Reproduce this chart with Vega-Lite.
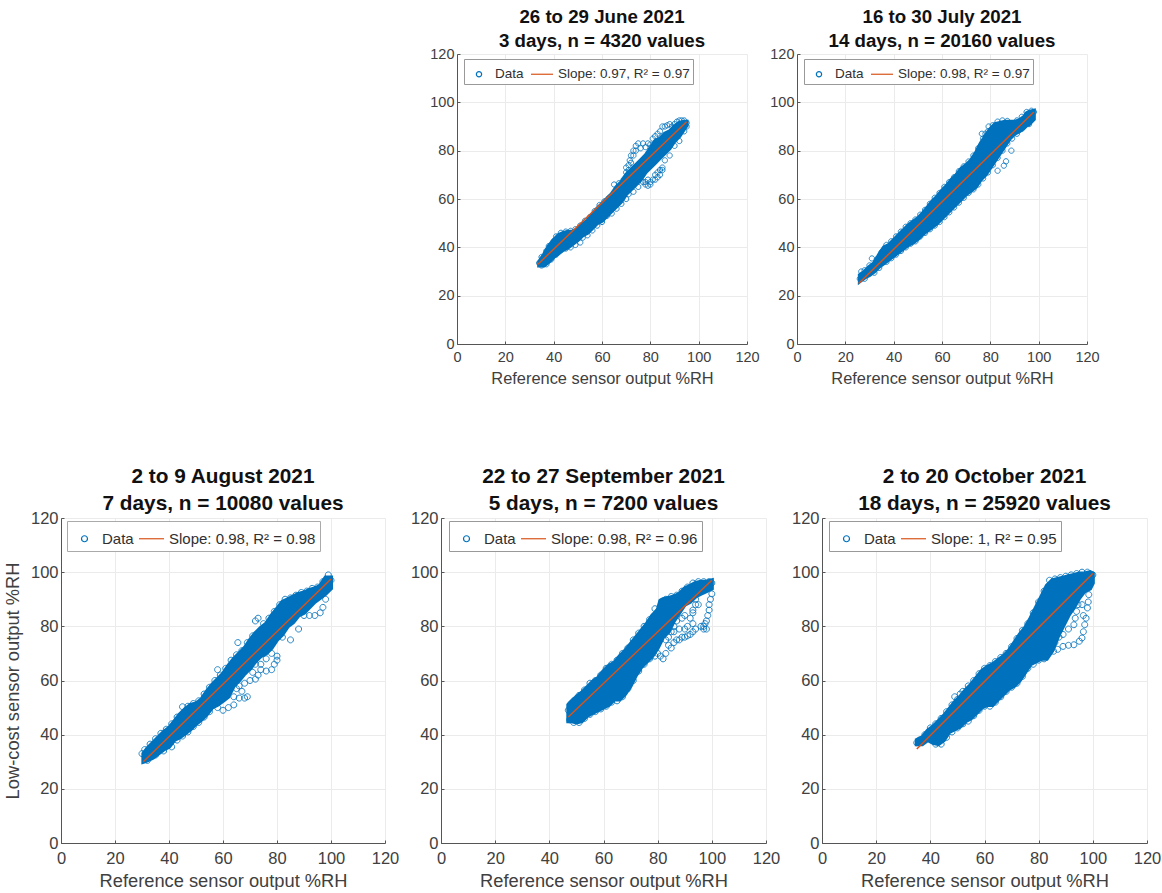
{"$schema":"https://vega.github.io/schema/vega-lite/v6.json","background":"white","padding":{"left":3,"top":8,"right":0,"bottom":0},"bounds":"flush","spacing":464,
"resolve":{"scale":{"color":"independent","shape":"independent"},"legend":{"color":"independent","shape":"independent"}},
"config":{"view":{"stroke":null},"font":"Liberation Sans","axis":{"grid":true,"gridColor":"#ebebeb","gridWidth":1,"domainColor":"#555555","domainWidth":1,"tickColor":"#555555","tickSize":-3,"labelColor":"#404040","titleColor":"#404040","titleFontWeight":"normal","labelFont":"Liberation Sans","titleFont":"Liberation Sans","labelFlush":false,"labelOverlap":false}},
"datasets":{
"e1":[{"x":34,"lo":32.5,"hi":34},{"x":36,"lo":32.5,"hi":37},{"x":38,"lo":34,"hi":40.5},{"x":40,"lo":36,"hi":43},{"x":42,"lo":37.5,"hi":45},{"x":44,"lo":39,"hi":46},{"x":46,"lo":40,"hi":46.5},{"x":48,"lo":41.5,"hi":46.5},{"x":50,"lo":43,"hi":47.5},{"x":52,"lo":45,"hi":49.5},{"x":54,"lo":46,"hi":51},{"x":56,"lo":48,"hi":53.5},{"x":58,"lo":50,"hi":56},{"x":60,"lo":51,"hi":58},{"x":62,"lo":53,"hi":60},{"x":64,"lo":55,"hi":62},{"x":66,"lo":57,"hi":65},{"x":68,"lo":59,"hi":67},{"x":70,"lo":62,"hi":70},{"x":72,"lo":64,"hi":72},{"x":74,"lo":66,"hi":74},{"x":76,"lo":68,"hi":76},{"x":78,"lo":71,"hi":78},{"x":80,"lo":73,"hi":81},{"x":82,"lo":75,"hi":84},{"x":84,"lo":77,"hi":85},{"x":86,"lo":79,"hi":87},{"x":88,"lo":81,"hi":88},{"x":90,"lo":84,"hi":90},{"x":92,"lo":86,"hi":91.5},{"x":94,"lo":89,"hi":92},{"x":95,"lo":90.5,"hi":92}],
"p1":[{"x":34,"y":33.5},{"x":35,"y":36},{"x":37,"y":38.5},{"x":38,"y":40.5},{"x":40,"y":42.5},{"x":41,"y":44.5},{"x":43,"y":46},{"x":45,"y":46.5},{"x":47,"y":46.8},{"x":49,"y":47.5},{"x":51,"y":49},{"x":53,"y":51},{"x":55,"y":52.5},{"x":57,"y":55},{"x":59,"y":57.5},{"x":61,"y":59},{"x":63,"y":60.5},{"x":65,"y":66},{"x":67,"y":66.5},{"x":69,"y":68},{"x":70,"y":71},{"x":71,"y":74},{"x":71.5,"y":76},{"x":72,"y":78},{"x":73,"y":80},{"x":74,"y":82},{"x":75,"y":83},{"x":77,"y":83},{"x":79,"y":83},{"x":80,"y":82.5},{"x":81,"y":85},{"x":82,"y":86},{"x":83,"y":87},{"x":84,"y":88},{"x":85,"y":90},{"x":86,"y":90},{"x":87,"y":90.5},{"x":88,"y":91},{"x":89,"y":90},{"x":90,"y":91},{"x":91,"y":92},{"x":92,"y":92.5},{"x":93,"y":92.5},{"x":94,"y":92.5},{"x":95,"y":91.5},{"x":72,"y":75},{"x":73,"y":78},{"x":74,"y":80},{"x":76,"y":81},{"x":78,"y":81.5},{"x":70,"y":73},{"x":71,"y":72},{"x":35,"y":32.5},{"x":37,"y":33},{"x":39,"y":35},{"x":41,"y":37},{"x":43,"y":39},{"x":45,"y":39.5},{"x":47,"y":40},{"x":49,"y":41},{"x":51,"y":42},{"x":52,"y":44},{"x":54,"y":45},{"x":56,"y":47},{"x":58,"y":49},{"x":60,"y":50.5},{"x":62,"y":53},{"x":64,"y":54},{"x":66,"y":56},{"x":68,"y":58},{"x":70,"y":60},{"x":71,"y":62},{"x":73,"y":63},{"x":75,"y":65},{"x":77,"y":67},{"x":78,"y":66},{"x":79,"y":65.5},{"x":80,"y":66},{"x":81,"y":68},{"x":82,"y":70},{"x":83,"y":71},{"x":84,"y":72},{"x":85,"y":73},{"x":86,"y":76},{"x":88,"y":78},{"x":90,"y":82},{"x":92,"y":84},{"x":94,"y":88},{"x":95,"y":90},{"x":78,"y":67},{"x":80,"y":67},{"x":83,"y":69},{"x":84,"y":70},{"x":85,"y":72},{"x":79,"y":68},{"x":82,"y":68}],
"l1":[{"x":33.5,"y":33},{"x":95,"y":92}],
"e2":[{"x":26,"lo":26,"hi":28.5},{"x":28,"lo":27.5,"hi":30},{"x":30,"lo":28.5,"hi":32},{"x":32,"lo":30,"hi":33.5},{"x":34,"lo":32,"hi":37},{"x":36,"lo":33.5,"hi":40},{"x":38,"lo":35,"hi":41},{"x":40,"lo":36.5,"hi":43},{"x":42,"lo":38,"hi":45},{"x":44,"lo":39.5,"hi":47},{"x":46,"lo":41,"hi":49},{"x":48,"lo":42,"hi":50.5},{"x":50,"lo":43.5,"hi":52},{"x":52,"lo":45.5,"hi":54},{"x":54,"lo":47,"hi":56.5},{"x":56,"lo":48.5,"hi":59},{"x":58,"lo":50,"hi":61},{"x":60,"lo":52,"hi":63.5},{"x":62,"lo":54,"hi":65.5},{"x":64,"lo":56,"hi":68},{"x":66,"lo":58,"hi":70},{"x":68,"lo":60,"hi":72.5},{"x":70,"lo":62,"hi":74},{"x":72,"lo":63.5,"hi":76},{"x":74,"lo":65,"hi":79},{"x":76,"lo":68,"hi":83},{"x":78,"lo":70,"hi":86},{"x":80,"lo":73,"hi":89},{"x":82,"lo":76,"hi":91},{"x":84,"lo":79,"hi":91.5},{"x":86,"lo":82,"hi":92},{"x":88,"lo":85,"hi":92},{"x":90,"lo":87,"hi":92},{"x":92,"lo":88,"hi":92.5},{"x":94,"lo":89.5,"hi":94},{"x":95,"lo":90.5,"hi":95.5},{"x":96,"lo":91,"hi":96},{"x":98,"lo":93,"hi":96.5}],
"p2":[{"x":26,"y":27},{"x":26.6,"y":30},{"x":31,"y":35.4},{"x":28,"y":30.5},{"x":30,"y":32.5},{"x":33,"y":35},{"x":35,"y":38},{"x":37,"y":41},{"x":39,"y":42.5},{"x":41,"y":44.5},{"x":43,"y":46.5},{"x":45,"y":48.5},{"x":47,"y":50},{"x":49,"y":51.5},{"x":51,"y":53.5},{"x":53,"y":55.5},{"x":55,"y":58},{"x":57,"y":60.5},{"x":59,"y":62.5},{"x":61,"y":65},{"x":63,"y":67},{"x":65,"y":69},{"x":67,"y":71.5},{"x":69,"y":73.5},{"x":71,"y":75.5},{"x":73,"y":78},{"x":75,"y":81},{"x":77,"y":85},{"x":79,"y":88},{"x":81,"y":90.5},{"x":76.5,"y":87},{"x":79.3,"y":90},{"x":78,"y":87},{"x":81,"y":87.5},{"x":83,"y":92},{"x":85,"y":92.5},{"x":87,"y":92.3},{"x":91,"y":92.5},{"x":93,"y":94},{"x":95,"y":96},{"x":97,"y":96.5},{"x":98,"y":96},{"x":28,"y":27},{"x":32,"y":29.5},{"x":34,"y":31.5},{"x":37,"y":34},{"x":39,"y":35.5},{"x":41,"y":37},{"x":43,"y":38.5},{"x":45,"y":40},{"x":47,"y":41.5},{"x":49,"y":42.5},{"x":51,"y":44.5},{"x":53,"y":46},{"x":55,"y":47.5},{"x":57,"y":49},{"x":59,"y":50.5},{"x":61,"y":52.5},{"x":63,"y":54.5},{"x":65,"y":56.5},{"x":67,"y":58.5},{"x":69,"y":60.5},{"x":71,"y":62.5},{"x":73,"y":64},{"x":75,"y":66},{"x":77,"y":68.5},{"x":79,"y":71},{"x":81,"y":74},{"x":83,"y":71.7},{"x":85.6,"y":73.8},{"x":86.5,"y":75.6},{"x":83,"y":77},{"x":85,"y":80},{"x":87,"y":83},{"x":88.7,"y":80},{"x":89,"y":85},{"x":91,"y":87},{"x":93,"y":89},{"x":96,"y":91}],
"l2":[{"x":25.5,"y":25},{"x":98,"y":96}],
"e3":[{"x":30.5,"lo":30,"hi":33},{"x":32,"lo":30.5,"hi":35},{"x":34,"lo":31.5,"hi":37},{"x":36,"lo":33,"hi":39},{"x":38,"lo":34.5,"hi":41},{"x":40,"lo":35.5,"hi":42.5},{"x":42,"lo":38,"hi":45},{"x":44,"lo":39,"hi":47.5},{"x":46,"lo":40.5,"hi":49.5},{"x":48,"lo":42,"hi":51},{"x":50,"lo":44,"hi":51.5},{"x":52,"lo":45.5,"hi":53},{"x":54,"lo":47.5,"hi":56},{"x":56,"lo":50,"hi":58.5},{"x":58,"lo":51,"hi":60.5},{"x":60,"lo":52.5,"hi":62.5},{"x":62,"lo":54,"hi":65.5},{"x":64,"lo":58,"hi":68},{"x":66,"lo":60,"hi":70},{"x":68,"lo":62.5,"hi":72},{"x":70,"lo":64.5,"hi":75},{"x":72,"lo":67,"hi":77.5},{"x":74,"lo":69,"hi":79.5},{"x":76,"lo":70,"hi":81},{"x":78,"lo":72,"hi":84},{"x":80,"lo":75,"hi":86.5},{"x":82,"lo":77,"hi":89},{"x":84,"lo":80,"hi":90},{"x":86,"lo":81.5,"hi":91},{"x":88,"lo":84,"hi":92},{"x":90,"lo":85,"hi":92.5},{"x":92,"lo":87,"hi":93.5},{"x":94,"lo":89,"hi":94},{"x":96,"lo":90.5,"hi":95},{"x":98,"lo":92,"hi":98},{"x":100,"lo":94,"hi":98}],
"p3":[{"x":30,"y":33},{"x":31,"y":34.5},{"x":33,"y":36.5},{"x":35,"y":38.5},{"x":37,"y":40.5},{"x":39,"y":42},{"x":41,"y":44},{"x":43,"y":46.5},{"x":45,"y":50.3},{"x":47,"y":50.5},{"x":49,"y":51.5},{"x":51,"y":52.5},{"x":53,"y":55},{"x":55,"y":57.5},{"x":58,"y":64},{"x":57,"y":60},{"x":59,"y":62},{"x":61,"y":64.5},{"x":63,"y":67.5},{"x":65,"y":69.5},{"x":65.5,"y":74},{"x":67,"y":71},{"x":69,"y":74},{"x":71,"y":76.5},{"x":72,"y":82},{"x":73,"y":83},{"x":75,"y":81},{"x":77,"y":83},{"x":79,"y":85.5},{"x":81,"y":88},{"x":83,"y":90},{"x":85,"y":90.5},{"x":87,"y":91.5},{"x":89,"y":92.5},{"x":91,"y":93},{"x":93,"y":94},{"x":95,"y":94.5},{"x":97,"y":96.5},{"x":99,"y":99},{"x":100,"y":97},{"x":32,"y":30.5},{"x":35,"y":32.5},{"x":38,"y":34},{"x":41,"y":35.5},{"x":43,"y":38},{"x":45,"y":39.5},{"x":47,"y":41},{"x":49,"y":43},{"x":51,"y":44.5},{"x":53,"y":46.5},{"x":55,"y":48.5},{"x":58,"y":50},{"x":60,"y":49},{"x":62,"y":50},{"x":64,"y":51},{"x":64,"y":54},{"x":66,"y":53.5},{"x":68,"y":53.5},{"x":69,"y":54},{"x":67,"y":56},{"x":65,"y":57},{"x":66,"y":58},{"x":68,"y":59},{"x":70,"y":60},{"x":72,"y":60.5},{"x":73,"y":62},{"x":71,"y":63},{"x":74,"y":64},{"x":76,"y":63.5},{"x":78,"y":64},{"x":79,"y":66},{"x":80,"y":67.5},{"x":80,"y":69},{"x":78,"y":70},{"x":76,"y":68},{"x":74,"y":66},{"x":72,"y":66},{"x":70,"y":65},{"x":82,"y":76},{"x":85,"y":75},{"x":88,"y":79},{"x":90,"y":84},{"x":92,"y":84},{"x":94,"y":84},{"x":96,"y":85},{"x":97,"y":87},{"x":98,"y":90}],
"l3":[{"x":30.5,"y":30},{"x":100,"y":97.5}],
"e4":[{"x":47,"lo":45,"hi":51},{"x":48,"lo":45,"hi":52},{"x":50,"lo":44.5,"hi":54},{"x":52,"lo":45,"hi":55.5},{"x":54,"lo":47,"hi":57.5},{"x":56,"lo":48,"hi":59.5},{"x":58,"lo":49,"hi":61},{"x":60,"lo":50,"hi":63.5},{"x":62,"lo":51,"hi":65.5},{"x":64,"lo":53,"hi":66.5},{"x":66,"lo":53,"hi":69},{"x":68,"lo":55,"hi":71},{"x":70,"lo":58,"hi":73.5},{"x":72,"lo":62,"hi":76},{"x":74,"lo":65,"hi":78.5},{"x":76,"lo":67,"hi":81},{"x":78,"lo":69,"hi":84},{"x":80,"lo":72,"hi":86},{"x":81,"lo":74,"hi":89.5},{"x":82,"lo":76,"hi":90},{"x":84,"lo":78,"hi":90.5},{"x":86,"lo":82,"hi":91},{"x":88,"lo":85,"hi":92},{"x":90,"lo":88,"hi":94},{"x":92,"lo":89,"hi":95},{"x":94,"lo":91,"hi":96},{"x":96,"lo":92,"hi":96.5},{"x":98,"lo":93,"hi":96.5},{"x":100,"lo":94,"hi":97}],
"p4":[{"x":47,"y":49},{"x":47.5,"y":45.5},{"x":48,"y":51.5},{"x":49,"y":52.5},{"x":51,"y":54.5},{"x":53,"y":56.5},{"x":55,"y":59},{"x":57,"y":60},{"x":59,"y":62},{"x":61,"y":64.5},{"x":63,"y":66},{"x":65,"y":67.5},{"x":67,"y":70},{"x":69,"y":72},{"x":71,"y":75},{"x":73,"y":77.5},{"x":75,"y":80},{"x":77,"y":82.5},{"x":79,"y":86.5},{"x":80,"y":85.5},{"x":81.5,"y":89},{"x":83,"y":90},{"x":85,"y":91},{"x":87,"y":91.5},{"x":89,"y":93},{"x":91,"y":94.5},{"x":93,"y":96},{"x":95,"y":96.5},{"x":97,"y":96.5},{"x":99,"y":96.5},{"x":100,"y":96},{"x":49,"y":44.5},{"x":51,"y":44.5},{"x":53,"y":46},{"x":55,"y":47.5},{"x":57,"y":48.5},{"x":59,"y":49.5},{"x":61,"y":50.5},{"x":63,"y":52},{"x":65,"y":52.5},{"x":67,"y":54},{"x":69,"y":57},{"x":71,"y":60},{"x":73,"y":63.5},{"x":75,"y":66},{"x":77,"y":68},{"x":79,"y":69},{"x":100,"y":92},{"x":99.5,"y":90},{"x":99,"y":88},{"x":99,"y":86},{"x":98.5,"y":84},{"x":98,"y":82},{"x":97.5,"y":81},{"x":97,"y":80},{"x":97,"y":79},{"x":98,"y":79},{"x":96,"y":80},{"x":94,"y":79},{"x":93,"y":78},{"x":91,"y":76.5},{"x":89,"y":76},{"x":88,"y":75},{"x":87,"y":75},{"x":90,"y":76},{"x":92,"y":77},{"x":86,"y":74},{"x":85,"y":72},{"x":83,"y":70},{"x":82,"y":68},{"x":81,"y":69},{"x":80,"y":70},{"x":84,"y":73},{"x":86,"y":78},{"x":88,"y":79},{"x":90,"y":79},{"x":91,"y":80},{"x":93,"y":81},{"x":92,"y":83},{"x":93,"y":85},{"x":93,"y":86},{"x":94,"y":88},{"x":95,"y":88},{"x":94,"y":90},{"x":89,"y":83},{"x":90,"y":84},{"x":87,"y":82},{"x":85,"y":78},{"x":86,"y":80},{"x":84,"y":76},{"x":83,"y":75}],
"l4":[{"x":47,"y":46.5},{"x":100,"y":97}],
"e5":[{"x":35,"lo":36.5,"hi":38},{"x":37,"lo":36.5,"hi":39},{"x":39,"lo":38,"hi":41.5},{"x":41,"lo":37,"hi":43},{"x":43,"lo":36.5,"hi":45},{"x":45,"lo":38,"hi":47},{"x":47,"lo":41,"hi":49.5},{"x":49,"lo":42,"hi":52},{"x":51,"lo":43,"hi":54},{"x":53,"lo":45,"hi":56.5},{"x":55,"lo":46,"hi":58.5},{"x":57,"lo":48,"hi":61},{"x":59,"lo":50,"hi":63.5},{"x":61,"lo":51,"hi":65},{"x":63,"lo":51,"hi":66},{"x":65,"lo":53,"hi":67.5},{"x":67,"lo":55,"hi":69},{"x":69,"lo":57,"hi":71},{"x":71,"lo":58,"hi":74},{"x":73,"lo":60,"hi":77},{"x":75,"lo":63,"hi":79.5},{"x":77,"lo":66,"hi":83},{"x":79,"lo":67,"hi":87},{"x":81,"lo":68,"hi":91},{"x":83,"lo":68,"hi":95},{"x":85,"lo":71,"hi":97},{"x":87,"lo":76,"hi":97.5},{"x":89,"lo":80,"hi":98},{"x":91,"lo":84,"hi":98.5},{"x":93,"lo":87,"hi":99},{"x":95,"lo":90.5,"hi":99.5},{"x":97,"lo":93,"hi":99.5},{"x":99,"lo":94,"hi":100},{"x":100,"lo":96,"hi":99.5}],
"p5":[{"x":35,"y":37},{"x":36,"y":38},{"x":38,"y":40},{"x":40,"y":42.5},{"x":42,"y":44},{"x":44,"y":46},{"x":46,"y":48.5},{"x":48,"y":51},{"x":49,"y":54},{"x":51,"y":55},{"x":50,"y":53},{"x":52,"y":56},{"x":54,"y":58},{"x":56,"y":60},{"x":58,"y":62.5},{"x":60,"y":64.5},{"x":62,"y":65.5},{"x":64,"y":67},{"x":66,"y":68.5},{"x":68,"y":70},{"x":70,"y":72.5},{"x":72,"y":75.5},{"x":74,"y":78.5},{"x":76,"y":81},{"x":78,"y":85},{"x":80,"y":89},{"x":82,"y":93},{"x":84,"y":97},{"x":86,"y":97.5},{"x":88,"y":98},{"x":90,"y":98.5},{"x":92,"y":99},{"x":94,"y":99.5},{"x":96,"y":100},{"x":98,"y":100},{"x":100,"y":99},{"x":42,"y":36.5},{"x":44,"y":36.5},{"x":46,"y":39},{"x":48,"y":41},{"x":50,"y":42.5},{"x":52,"y":44},{"x":54,"y":45},{"x":56,"y":47},{"x":58,"y":49},{"x":60,"y":50.5},{"x":62,"y":50.5},{"x":64,"y":52},{"x":66,"y":54},{"x":68,"y":56},{"x":70,"y":57.5},{"x":72,"y":59},{"x":74,"y":61.5},{"x":76,"y":64.5},{"x":78,"y":66},{"x":80,"y":67.5},{"x":82,"y":68},{"x":85.5,"y":70.8},{"x":87,"y":71.5},{"x":89,"y":72.6},{"x":91,"y":73},{"x":93,"y":73.2},{"x":95,"y":74.5},{"x":96,"y":75.7},{"x":96.5,"y":78},{"x":97,"y":80.6},{"x":97.5,"y":83},{"x":98,"y":86.8},{"x":98.3,"y":89},{"x":98.5,"y":91.7},{"x":86,"y":74},{"x":87.5,"y":76},{"x":89,"y":77},{"x":91,"y":79},{"x":93,"y":80.6},{"x":93.5,"y":83},{"x":94,"y":85.5},{"x":94.5,"y":88},{"x":96,"y":88},{"x":96.5,"y":84}],
"l5":[{"x":35,"y":34.7},{"x":100,"y":99.5}]
},
"vconcat":[
{"bounds":"flush","spacing":50,"resolve":{"scale":{"color":"independent","shape":"independent"},"legend":{"color":"independent","shape":"independent"}},"hconcat":[
{"width":346,"height":290,"data":{"values":[{"x":0}]},"mark":{"type":"point","opacity":0},"encoding":{"x":{"field":"x","type":"quantitative","axis":null}}},
{"width":290,"height":290,"title":{"text":["26 to 29 June 2021","3 days, n = 4320 values"],"fontSize":18.7,"fontWeight":"bold","lineHeight":24,"color":"#111111","offset":-5,"font":"Liberation Sans"},
"layer":[
{"data":{"name":"e1"},"mark":{"type":"area","color":"#0072BD","stroke":"#0072BD","strokeWidth":4},"encoding":{"x":{"field":"x","type":"quantitative","scale":{"domain":[0,120],"nice":false},"title":"Reference sensor output %RH","axis":{"values":[0,20,40,60,80,100,120],"labelFontSize":14.5,"titleFontSize":16.4,"titlePadding":7,"labelPadding":9}},"y":{"field":"lo","type":"quantitative","scale":{"domain":[0,120],"nice":false},"title":null,"axis":{"values":[0,20,40,60,80,100,120],"labelFontSize":14.5,"labelPadding":6}},"y2":{"field":"hi"}}},
{"data":{"name":"p1"},"mark":{"type":"point","filled":false,"size":484,"strokeWidth":1,"opacity":0.85},"encoding":{"x":{"field":"x","type":"quantitative"},"y":{"field":"y","type":"quantitative"},"color":{"datum":"Data","scale":{"domain":["Data","Slope: 0.97, R² = 0.97"],"range":["#0072BD","#D95319"]},"legend":{"orient":"none","legendX":7,"legendY":5,"direction":"horizontal","columns":2,"title":null,"fillColor":"white","strokeColor":"#999999","padding":3,"labelFontSize":13.5,"labelColor":"#303030","symbolSize":484,"symbolStrokeWidth":1.2,"columnPadding":4,"labelOffset":4,"symbolOpacity":1}},"shape":{"datum":"Data","scale":{"domain":["Data","Slope: 0.97, R² = 0.97"],"range":["M-.24,0A.24,.24 0 1,1 .24,0A.24,.24 0 1,1 -.24,0Z","M-1,0L1,0"]}}}},
{"data":{"name":"l1"},"mark":{"type":"line","color":"#D95319","strokeWidth":1.5},"encoding":{"x":{"field":"x","type":"quantitative"},"y":{"field":"y","type":"quantitative"}}}
]},
{"width":290,"height":290,"title":{"text":["16 to 30 July 2021","14 days, n = 20160 values"],"fontSize":18.7,"fontWeight":"bold","lineHeight":24,"color":"#111111","offset":-5,"font":"Liberation Sans"},
"layer":[
{"data":{"name":"e2"},"mark":{"type":"area","color":"#0072BD","stroke":"#0072BD","strokeWidth":4},"encoding":{"x":{"field":"x","type":"quantitative","scale":{"domain":[0,120],"nice":false},"title":"Reference sensor output %RH","axis":{"values":[0,20,40,60,80,100,120],"labelFontSize":14.5,"titleFontSize":16.4,"titlePadding":7,"labelPadding":9}},"y":{"field":"lo","type":"quantitative","scale":{"domain":[0,120],"nice":false},"title":null,"axis":{"values":[0,20,40,60,80,100,120],"labelFontSize":14.5,"labelPadding":6}},"y2":{"field":"hi"}}},
{"data":{"name":"p2"},"mark":{"type":"point","filled":false,"size":484,"strokeWidth":1,"opacity":0.85},"encoding":{"x":{"field":"x","type":"quantitative"},"y":{"field":"y","type":"quantitative"},"color":{"datum":"Data","scale":{"domain":["Data","Slope: 0.98, R² = 0.97"],"range":["#0072BD","#D95319"]},"legend":{"orient":"none","legendX":7,"legendY":5,"direction":"horizontal","columns":2,"title":null,"fillColor":"white","strokeColor":"#999999","padding":3,"labelFontSize":13.5,"labelColor":"#303030","symbolSize":484,"symbolStrokeWidth":1.2,"columnPadding":4,"labelOffset":4,"symbolOpacity":1}},"shape":{"datum":"Data","scale":{"domain":["Data","Slope: 0.98, R² = 0.97"],"range":["M-.24,0A.24,.24 0 1,1 .24,0A.24,.24 0 1,1 -.24,0Z","M-1,0L1,0"]}}}},
{"data":{"name":"l2"},"mark":{"type":"line","color":"#D95319","strokeWidth":1.5},"encoding":{"x":{"field":"x","type":"quantitative"},"y":{"field":"y","type":"quantitative"}}}
]}
]},
{"bounds":"flush","spacing":56,"resolve":{"scale":{"color":"independent","shape":"independent"},"legend":{"color":"independent","shape":"independent"}},"hconcat":[
{"width":324,"height":325,"title":{"text":["2 to 9 August 2021","7 days, n = 10080 values"],"fontSize":20.8,"fontWeight":"bold","lineHeight":27,"color":"#111111","offset":-5,"font":"Liberation Sans"},
"layer":[
{"data":{"name":"e3"},"mark":{"type":"area","color":"#0072BD","stroke":"#0072BD","strokeWidth":4},"encoding":{"x":{"field":"x","type":"quantitative","scale":{"domain":[0,120],"nice":false},"title":"Reference sensor output %RH","axis":{"values":[0,20,40,60,80,100,120],"labelFontSize":16.5,"titleFontSize":18.3,"titlePadding":6,"labelPadding":10}},"y":{"field":"lo","type":"quantitative","scale":{"domain":[0,120],"nice":false},"title":"Low-cost sensor output %RH","axis":{"values":[0,20,40,60,80,100,120],"labelFontSize":16.5,"titleFontSize":18.3,"labelPadding":6,"titlePadding":8}},"y2":{"field":"hi"}}},
{"data":{"name":"p3"},"mark":{"type":"point","filled":false,"size":625,"strokeWidth":1,"opacity":0.85},"encoding":{"x":{"field":"x","type":"quantitative"},"y":{"field":"y","type":"quantitative"},"color":{"datum":"Data","scale":{"domain":["Data","Slope: 0.98, R² = 0.98"],"range":["#0072BD","#D95319"]},"legend":{"orient":"none","legendX":6,"legendY":3,"direction":"horizontal","columns":2,"title":null,"fillColor":"white","strokeColor":"#aaaaaa","padding":4,"labelFontSize":15,"labelColor":"#303030","symbolSize":625,"symbolStrokeWidth":1.2,"columnPadding":2,"labelOffset":4,"symbolOpacity":1}},"shape":{"datum":"Data","scale":{"domain":["Data","Slope: 0.98, R² = 0.98"],"range":["M-.24,0A.24,.24 0 1,1 .24,0A.24,.24 0 1,1 -.24,0Z","M-1,0L1,0"]}}}},
{"data":{"name":"l3"},"mark":{"type":"line","color":"#D95319","strokeWidth":1.5},"encoding":{"x":{"field":"x","type":"quantitative"},"y":{"field":"y","type":"quantitative"}}}
]},
{"width":325,"height":325,"title":{"text":["22 to 27 September 2021","5 days, n = 7200 values"],"fontSize":20.8,"fontWeight":"bold","lineHeight":27,"color":"#111111","offset":-5,"font":"Liberation Sans"},
"layer":[
{"data":{"name":"e4"},"mark":{"type":"area","color":"#0072BD","stroke":"#0072BD","strokeWidth":4},"encoding":{"x":{"field":"x","type":"quantitative","scale":{"domain":[0,120],"nice":false},"title":"Reference sensor output %RH","axis":{"values":[0,20,40,60,80,100,120],"labelFontSize":16.5,"titleFontSize":18.3,"titlePadding":6,"labelPadding":10}},"y":{"field":"lo","type":"quantitative","scale":{"domain":[0,120],"nice":false},"title":null,"axis":{"values":[0,20,40,60,80,100,120],"labelFontSize":16.5,"labelPadding":6}},"y2":{"field":"hi"}}},
{"data":{"name":"p4"},"mark":{"type":"point","filled":false,"size":625,"strokeWidth":1,"opacity":0.85},"encoding":{"x":{"field":"x","type":"quantitative"},"y":{"field":"y","type":"quantitative"},"color":{"datum":"Data","scale":{"domain":["Data","Slope: 0.98, R² = 0.96"],"range":["#0072BD","#D95319"]},"legend":{"orient":"none","legendX":8,"legendY":3,"direction":"horizontal","columns":2,"title":null,"fillColor":"white","strokeColor":"#999999","padding":4,"labelFontSize":15,"labelColor":"#303030","symbolSize":625,"symbolStrokeWidth":1.2,"columnPadding":2,"labelOffset":4,"symbolOpacity":1}},"shape":{"datum":"Data","scale":{"domain":["Data","Slope: 0.98, R² = 0.96"],"range":["M-.24,0A.24,.24 0 1,1 .24,0A.24,.24 0 1,1 -.24,0Z","M-1,0L1,0"]}}}},
{"data":{"name":"l4"},"mark":{"type":"line","color":"#D95319","strokeWidth":1.5},"encoding":{"x":{"field":"x","type":"quantitative"},"y":{"field":"y","type":"quantitative"}}}
]},
{"width":325,"height":325,"title":{"text":["2 to 20 October 2021","18 days, n = 25920 values"],"fontSize":20.8,"fontWeight":"bold","lineHeight":27,"color":"#111111","offset":-5,"font":"Liberation Sans"},
"layer":[
{"data":{"name":"e5"},"mark":{"type":"area","color":"#0072BD","stroke":"#0072BD","strokeWidth":4},"encoding":{"x":{"field":"x","type":"quantitative","scale":{"domain":[0,120],"nice":false},"title":"Reference sensor output %RH","axis":{"values":[0,20,40,60,80,100,120],"labelFontSize":16.5,"titleFontSize":18.3,"titlePadding":6,"labelPadding":10}},"y":{"field":"lo","type":"quantitative","scale":{"domain":[0,120],"nice":false},"title":null,"axis":{"values":[0,20,40,60,80,100,120],"labelFontSize":16.5,"labelPadding":6}},"y2":{"field":"hi"}}},
{"data":{"name":"p5"},"mark":{"type":"point","filled":false,"size":625,"strokeWidth":1,"opacity":0.85},"encoding":{"x":{"field":"x","type":"quantitative"},"y":{"field":"y","type":"quantitative"},"color":{"datum":"Data","scale":{"domain":["Data","Slope: 1, R² = 0.95"],"range":["#0072BD","#D95319"]},"legend":{"orient":"none","legendX":7,"legendY":3,"direction":"horizontal","columns":2,"title":null,"fillColor":"white","strokeColor":"#999999","padding":4,"labelFontSize":15,"labelColor":"#303030","symbolSize":625,"symbolStrokeWidth":1.2,"columnPadding":2,"labelOffset":4,"symbolOpacity":1}},"shape":{"datum":"Data","scale":{"domain":["Data","Slope: 1, R² = 0.95"],"range":["M-.24,0A.24,.24 0 1,1 .24,0A.24,.24 0 1,1 -.24,0Z","M-1,0L1,0"]}}}},
{"data":{"name":"l5"},"mark":{"type":"line","color":"#D95319","strokeWidth":1.5},"encoding":{"x":{"field":"x","type":"quantitative"},"y":{"field":"y","type":"quantitative"}}}
]}
]}
]}
